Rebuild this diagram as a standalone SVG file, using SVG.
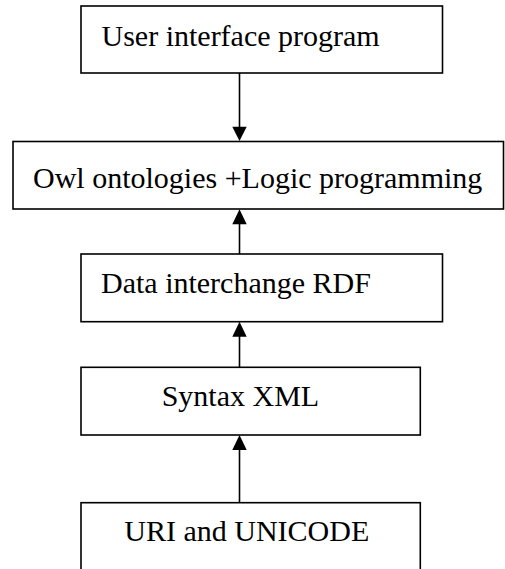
<svg xmlns="http://www.w3.org/2000/svg" width="505" height="569" viewBox="0 0 505 569">
<style>
.box{fill:#fff;stroke:#000;stroke-width:1.6}
.lbl{font-family:"Liberation Serif","Times New Roman",serif;font-size:30px;fill:#000}
.conn{stroke:#000;stroke-width:1.6;fill:none}
.head{fill:#000}
</style>
<rect width="505" height="569" fill="#fff"/>
<g id="n1"><rect class="box" x="81" y="6" width="361.5" height="67"/><text class="lbl" x="101.5" y="46">User interface program</text></g>
<g id="n2"><rect class="box" x="13" y="141.5" width="490.5" height="67.5"/><text class="lbl" x="33" y="188">Owl ontologies +Logic programming</text></g>
<g id="n3"><rect class="box" x="81" y="254" width="361.5" height="67.7"/><text class="lbl" x="101" y="292.7">Data interchange RDF</text></g>
<g id="n4"><rect class="box" x="81" y="367.3" width="339.3" height="67.7"/><text class="lbl" x="161.7" y="406">Syntax XML</text></g>
<g id="n5"><rect class="box" x="81" y="502.7" width="339.3" height="80"/><text class="lbl" x="124.3" y="540.7">URI and UNICODE</text></g>
<g id="connectors">
<line class="conn" x1="239.5" y1="73" x2="239.5" y2="128"/>
<polygon class="head" points="232.3,126.7 246.7,126.7 239.5,141"/>
<line class="conn" x1="239.5" y1="254" x2="239.5" y2="222"/>
<polygon class="head" points="232.3,224.3 246.7,224.3 239.5,209.3"/>
<line class="conn" x1="239.5" y1="367.3" x2="239.5" y2="335"/>
<polygon class="head" points="232.3,336.7 246.7,336.7 239.5,321.7"/>
<line class="conn" x1="239.5" y1="502.7" x2="239.5" y2="448"/>
<polygon class="head" points="232.3,450 246.7,450 239.5,435"/>
</g>
</svg>
